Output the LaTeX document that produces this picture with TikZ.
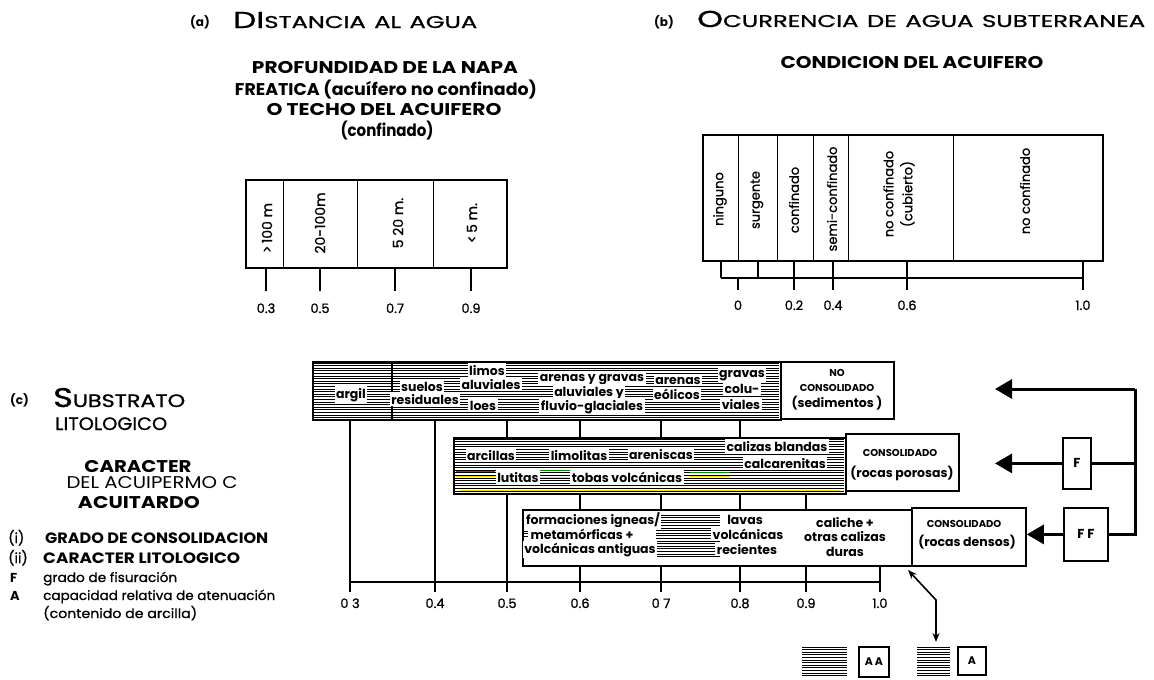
\documentclass[tikz,border=0pt]{standalone}
\usepackage{fontspec}
\setmainfont{Poppins}
\newfontfamily\medf{Poppins}[FakeBold=0.9]
\usetikzlibrary{arrows.meta}
\newcommand{\sx}[2]{\resizebox{#1pt}{\height}{#2}}
\newcommand{\fs}[1]{\fontsize{#1}{#1}\selectfont}
\newcommand{\hatchfill}[5][black]{%
  \pgfmathsetmacro{\hbA}{#3+2.6}%
  \foreach \hy in {#3,\hbA,...,#5} {\draw[#1,line width=1pt] (#2,\hy) -- (#4,\hy);}%
}
\begin{document}
\begin{tikzpicture}[x=1pt,y=-1pt,
  t/.style={inner sep=0pt, anchor=base},
  wt/.style={t, fill=white, inner xsep=1.5pt, inner ysep=1.5pt, font=\fs{12.5}\bfseries},
  bt/.style={t, font=\fs{12.5}\bfseries},
  ct/.style={t, font=\fs{10}\bfseries},
  cell/.style={draw, line width=1.3pt, anchor=north west, inner sep=0pt},
  bx/.style={draw, line width=1.8pt, anchor=north west, inner sep=0pt},
  conn/.style={line width=2.2pt},
  arr/.style={line width=3pt, -{Triangle[length=17pt,width=19pt]}},
  rlab/.style={rotate=90, inner sep=0pt, font=\fs{13}\medf},
  num/.style={t, font=\fs{13}\medf},
]
\useasboundingbox (0,0) rectangle (1154,680);
\fill[white] (0,0) rectangle (1154,680);

% ================= (a) =================
\node[t, font=\fs{12}\bfseries] (pa) at (200,27) {(a)};
\node[t, anchor=base west] (ttla) at (233,28) {\sx{244}{\medf\fs{23}DI\fs{17}STANCIA\hspace{6pt}AL\hspace{6pt}AGUA}};
\node[t] (suba1) at (385,73) {\sx{266}{\fs{17}\bfseries PROFUNDIDAD DE LA NAPA}};
\node[t] (suba2) at (386,95) {\sx{302}{\fs{17}\bfseries FREATICA (acuífero no confinado)}};
\node[t] (suba3) at (384,115) {\sx{235}{\fs{17}\bfseries O TECHO DEL ACUIFERO}};
\node[t] (suba4) at (387,136) {\sx{93}{\fs{17}\bfseries (confinado)}};

\node[cell, minimum width=37pt, minimum height=87pt] (a1) at (246,180) {};
\node[cell, minimum width=74pt, minimum height=87pt] (a2) at (283,180) {};
\node[cell, minimum width=76pt, minimum height=87pt] (a3) at (357,180) {};
\node[cell, minimum width=73pt, minimum height=87pt] (a4) at (433,180) {};
\draw[line width=1.8pt] (a1.north west) rectangle (a4.south east);
\node[rlab, font=\fs{14}\medf] (ra1) at (267,228) {>\,100 m};
\node[rlab, font=\fs{14}\medf] (ra2) at (320,223) {20-100m};
\node[rlab, font=\fs{14}\medf] (ra3) at (398,223) {5 20 m.};
\node[rlab, font=\fs{14}\medf] (ra4) at (472,223) {<\,5 m.};

\node[num] (na1) at (266,313) {0.3};
\node[num] (na2) at (320,313) {0.5};
\node[num] (na3) at (395,313) {0.7};
\node[num] (na4) at (471,313) {0.9};
\foreach \c/\n in {a1/na1,a2/na2,a3/na3,a4/na4}
  \draw[conn] (\c.south -| \n) -- ++(0,23);

% ================= (b) =================
\node[t, font=\fs{12}\bfseries] (pb) at (664,27) {(b)};
\node[t, anchor=base west] (ttlb) at (697,27) {\sx{448}{\medf\fs{23}O\fs{17}CURRENCIA\hspace{6pt}DE\hspace{6pt}AGUA\hspace{6pt}SUBTERRANEA}};
\node[t] (subb) at (912,68) {\sx{263}{\fs{17}\bfseries CONDICION DEL ACUIFERO}};

\node[cell, minimum width=35pt, minimum height=125pt] (b1) at (703,135) {};
\node[cell, minimum width=39pt, minimum height=125pt] (b2) at (738,135) {};
\node[cell, minimum width=36pt, minimum height=125pt] (b3) at (777,135) {};
\node[cell, minimum width=35pt, minimum height=125pt] (b4) at (813,135) {};
\node[cell, minimum width=105pt, minimum height=125pt] (b5) at (848,135) {};
\node[cell, minimum width=149pt, minimum height=125pt] (b6) at (953,135) {};
\draw[line width=1.8pt] (b1.north west) rectangle (b6.south east);
\node[rlab] (rb1) at (720,199) {ninguno};
\node[rlab] (rb2) at (757,200) {surgente};
\node[rlab] (rb3) at (794,200) {confinado};
\node[rlab] (rb4) at (832,199) {semi-confinado};
\node[rlab, align=center, font=\fontsize{13}{19}\selectfont\medf] (rb5) at (899,194) {no confinado\\(cubierto)};
\node[rlab] (rb6) at (1025,191) {no confinado};

\node[num] (nb0) at (738,310) {0};
\node[num] (nb2) at (794,310) {0.2};
\node[num] (nb4) at (833,310) {0.4};
\node[num] (nb6) at (907,310) {0.6};
\node[num] (nb10) at (1083,310) {1.0};
\coordinate (bk0) at (721,278);
\coordinate (bk1) at (1083,278);
\draw[conn] (bk0) -- (bk1);
\draw[conn] (b1.south) -- (b1.south |- bk0);
\draw[conn] (b2.south) -- (b2.south |- bk0);
\draw[conn] (b3.south -| nb2) -- (nb2 |- bk0);
\draw[conn] (b4.south -| nb4) -- (nb4 |- bk0);
\draw[conn] (b5.south -| nb6) -- (nb6 |- bk0);
\draw[conn] (b6.south -| nb10) -- (nb10 |- bk0);
\foreach \n in {nb0,nb2,nb4,nb6,nb10}
  \draw[conn] (\n |- bk0) -- ++(0,12);

% ================= (c) left texts =================
\node[t, anchor=base west, font=\fs{12}\bfseries] (pc) at (10,404) {(c)};
\node[t, anchor=base west] (csub) at (53,407) {\sx{132}{\medf\fs{27}S\fs{18}UBSTRATO}};
\node[t, anchor=base west] (clit) at (55,430) {\sx{112}{\medf\fs{18}LITOLOGICO}};
\node[t] (car1) at (138,472) {\sx{107}{\fs{17}\bfseries CARACTER}};
\node[t] (car2) at (152,488) {\sx{171}{\fs{17}DEL ACUIPERMO C}};
\node[t] (car3) at (139,508) {\sx{122}{\fs{17}\bfseries ACUITARDO}};

\node[t, anchor=base west, font=\fs{14}\medf] (li1) at (8,543) {(i)};
\node[t, anchor=base west] (lt1) at (45,543) {\sx{223}{\fs{15}\bfseries GRADO DE CONSOLIDACION}};
\node[t, anchor=base west, font=\fs{14}\medf] (li2) at (8,563) {(ii)};
\node[t, anchor=base west] (lt2) at (43,563) {\sx{197}{\fs{15}\bfseries CARACTER LITOLOGICO}};
\node[t, anchor=base west, font=\fs{13}\bfseries] (li3) at (10,582) {F};
\node[t, anchor=base west] (lt3) at (43,582) {\sx{134}{\medf\fs{13}grado de fisuración}};
\node[t, anchor=base west, font=\fs{13}\bfseries] (li4) at (10,600) {A};
\node[t, anchor=base west] (lt4) at (43,600) {\sx{232}{\medf\fs{13}capacidad relativa de atenuación}};
\node[t, anchor=base west] (lt5) at (43,618) {\sx{154}{\medf\fs{13}(contenido de arcilla)}};

% ================= (c) chart: top row =================
\hatchfill{313}{363}{779}{418}
\node[bx, minimum width=468pt, minimum height=58pt] (trow) at (312,361) {};
\coordinate (dv) at (392,361);
\draw[line width=2.4pt] (dv) -- (dv |- trow.south);
\node[bx, minimum width=113pt, minimum height=57pt] (ncons) at (780,361) {};
\node[wt] (tx1) at (351,398) {argil};
\node[wt] (tx2) at (422,391) {suelos};
\node[wt] (tx3) at (425,404) {residuales};
\node[wt] (tx4) at (487,375) {limos};
\node[wt] (tx5) at (491,389) {aluviales};
\node[wt] (tx6) at (483,410) {loes};
\node[wt] (tx7) at (592,381) {arenas y gravas};
\node[wt] (tx8) at (589,396) {aluviales y};
\node[wt] (tx9) at (592,410) {fluvio-glaciales};
\node[wt] (tx10) at (678,384) {arenas};
\node[wt] (tx11) at (677,399) {eólicos};
\node[wt] (tx12) at (742,377) {gravas};
\node[wt] (tx13) at (742,393) {colu-};
\node[wt] (tx14) at (741,409) {viales};
\node[ct] (tx15) at (837,376) {NO};
\node[ct] (tx16) at (837,391) {CONSOLIDADO};
\node[bt] (tx17) at (837,407) {(sedimentos )};

% ================= middle row =================
\hatchfill{454}{439}{844}{492}
\draw[green!55!black, line width=1pt] (456,471) -- (495,471) (540,470) -- (570,470) (690,472) -- (730,472);
\draw[yellow!80!orange, line width=1pt] (456,476) -- (495,476) (540,477) -- (570,477) (690,476) -- (730,476) (460,490) -- (840,490);
\node[bx, minimum width=392pt, minimum height=56pt] (mrow) at (453,437) {};
\node[bx, minimum width=113pt, minimum height=57pt] (mcons) at (845,433) {};
\node[wt] (mx1) at (491,460) {arcillas};
\node[wt] (mx2) at (579,460) {limolitas};
\node[wt] (mx3) at (661,459) {areniscas};
\node[wt] (mx4) at (777,451) {calizas blandas};
\node[wt] (mx5) at (785,468) {calcarenitas};
\node[wt] (mx6) at (518,482) {lutitas};
\node[wt] (mx7) at (627,482) {tobas volcánicas};
\node[ct] (mx8) at (900,456) {CONSOLIDADO};
\node[bt] (mx9) at (902,477) {(rocas porosas)};

% ================= bottom row =================
\node[bx, minimum width=389pt, minimum height=56pt] (brow) at (522,509) {};
\node[bx, minimum width=114pt, minimum height=58pt] (bcons) at (911,507) {};
\hatchfill{656}{515}{720}{557}
\hatchfill{524}{531}{528}{537}
\node[wt] (bx1) at (593,524) {formaciones igneas/};
\node[wt] (bx2) at (582,539) {metamórficas +};
\node[wt] (bx3) at (590,553) {volcánicas antiguas};
\node[wt] (bx4) at (745,524) {lavas};
\node[wt] (bx5) at (748,539) {volcánicas};
\node[wt] (bx6) at (747,554) {recientes};
\node[bt] (bx7) at (845,527) {caliche +};
\node[bt] (bx8) at (845,541) {otras calizas};
\node[bt] (bx9) at (845,556) {duras};
\node[ct] (bx10) at (964,527) {CONSOLIDADO};
\node[bt] (bx11) at (967,546) {(rocas densos)};

% ================= axis and connectors =================
\coordinate (x3) at (350,582);
\coordinate (x4) at (435,582);
\coordinate (x5) at (507,582);
\coordinate (x6) at (580,582);
\coordinate (x7) at (661,582);
\coordinate (x8) at (740,582);
\coordinate (x9) at (806,582);
\coordinate (x10) at (880,582);
\draw[conn] (x3) -- (x10);
\draw[conn] (trow.south -| x3) -- (x3);
\draw[conn] (trow.south -| x4) -- (x4);
\draw[conn] (mrow.south -| x5) -- (x5);
\foreach \p in {x5,x6,x7,x8}
  \draw[conn] (trow.south -| \p) -- (mrow.north -| \p);
\foreach \p in {x6,x7,x8,x9}
  \draw[conn] (mrow.south -| \p) -- (brow.north -| \p);
\foreach \p in {x6,x7,x8,x9,x10}
  \draw[conn] (brow.south -| \p) -- (\p);
\foreach \p in {x3,x4,x5,x6,x7,x8,x9,x10}
  \draw[conn] (\p) -- ++(0,10);
\node[num] (n3) at (350,608) {0 3};
\node[num] (n4) at (435,608) {0.4};
\node[num] (n5) at (507,608) {0.5};
\node[num] (n6) at (580,608) {0.6};
\node[num] (n7) at (661,608) {0 7};
\node[num] (n8) at (740,608) {0.8};
\node[num] (n9) at (806,608) {0.9};
\node[num] (n10) at (880,608) {1.0};

% ================= right side arrows =================
\node[bx, minimum width=28pt, minimum height=51pt, font=\fs{13}\bfseries] (fb) at (1062,437) {F};
\node[bx, minimum width=44pt, minimum height=53pt, font=\fs{13}\bfseries] (ffb) at (1063,507) {F F};
\coordinate (rtop) at (1135,389);
\coordinate (tipT) at (995,389);
\coordinate (tipM) at (995,462);
\draw[line width=3pt] (rtop) -- (rtop |- ffb.east) -- (ffb.east);
\draw[arr] (rtop) -- (tipT);
\draw[line width=3pt] (rtop |- fb.east) -- (fb.east);
\draw[arr] (fb.west) -- (tipM |- fb.west);
\draw[arr] (ffb.west) -- (bcons.east |- ffb.west);

% ================= legend =================
\coordinate (dtop) at (908,570);
\coordinate (dmid) at (936,600);
\coordinate (dbot) at (936,642);
\draw[line width=1.6pt, {Stealth[length=9pt,width=7pt]}-{Stealth[length=9pt,width=7pt]}] (dtop) -- (dmid) -- (dbot);
\hatchfill{802}{647}{847}{677}
\node[bx, minimum width=30pt, minimum height=30pt, font=\fs{11}\bfseries] (aa) at (858,646) {A\,A};
\hatchfill{917}{647}{950}{677}
\node[bx, minimum width=28pt, minimum height=28pt, font=\fs{11}\bfseries] (ab) at (957,646) {A};
\end{tikzpicture}
\end{document}
